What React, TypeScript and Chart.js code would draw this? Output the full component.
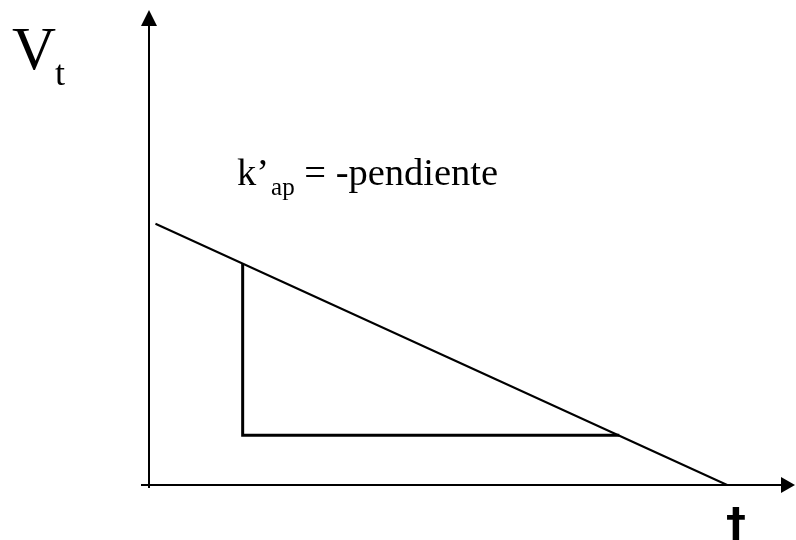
import React, { useEffect, useRef } from "react";
import { Chart, registerables } from "chart.js";

Chart.register(...registerables);

// Data (arbitrary units: time t on x, V_t on y)
const lineT = [0.1, 8.95];
const lineV = [5.5, 0];
const triangleT = [1.45, 1.45, 7.28];
const triangleV = [4.66, 1.05, 1.05];
const axisMaxT = 10;
const axisMaxV = 10;

const yLabel = "V";
const yLabelSub = "t";
const xLabel = "†";
const noteMain = "k’";
const noteSub = "ap";
const noteRest = " = -pendiente";

const overlayPlugin = {
  id: "overlay",
  afterDatasetsDraw(chart: any) {
    const { ctx, scales } = chart;
    const xs = scales.x;
    const ys = scales.y;
    const x0 = xs.getPixelForValue(0);
    const y0 = ys.getPixelForValue(0);
    const xEnd = xs.getPixelForValue(axisMaxT);
    const yTop = ys.getPixelForValue(axisMaxV);
    ctx.save();
    ctx.strokeStyle = "#000";
    ctx.fillStyle = "#000";
    ctx.lineWidth = 2;
    // y axis
    ctx.beginPath();
    ctx.moveTo(x0, y0 + 3);
    ctx.lineTo(x0, yTop + 12);
    ctx.stroke();
    ctx.beginPath();
    ctx.moveTo(x0, yTop);
    ctx.lineTo(x0 - 8, yTop + 16);
    ctx.lineTo(x0 + 8, yTop + 16);
    ctx.closePath();
    ctx.fill();
    // x axis
    ctx.beginPath();
    ctx.moveTo(x0 - 8, y0);
    ctx.lineTo(xEnd - 12, y0);
    ctx.stroke();
    ctx.beginPath();
    ctx.moveTo(xEnd, y0);
    ctx.lineTo(xEnd - 14, y0 - 8);
    ctx.lineTo(xEnd - 14, y0 + 8);
    ctx.closePath();
    ctx.fill();

    // labels
    ctx.textBaseline = "alphabetic";
    ctx.textAlign = "left";
    ctx.font = '61px "Liberation Serif"';
    ctx.fillText(yLabel, 12, 69);
    ctx.font = '36px "Liberation Serif"';
    ctx.fillText(yLabelSub, 55, 85);

    const kx = 237;
    ctx.font = '38.5px "Liberation Serif"';
    ctx.fillText(noteMain, kx, 185);
    const w1 = ctx.measureText(noteMain).width;
    ctx.font = '25px "Liberation Serif"';
    ctx.fillText(noteSub, kx + w1 + 2, 195);
    const w2 = ctx.measureText(noteSub).width;
    ctx.font = '38.5px "Liberation Serif"';
    ctx.fillText(noteRest, kx + w1 + 2 + w2, 185);

    ctx.font = 'bold 40px "DejaVu Sans"';
    ctx.textAlign = "center";
    ctx.fillText(xLabel, 736, 537);
    ctx.restore();
  },
};

export default function App() {
  const ref = useRef<HTMLCanvasElement | null>(null);
  useEffect(() => {
    if (!ref.current) return;
    const chart = new Chart(ref.current, {
      type: "scatter",
      data: {
        datasets: [
          {
            data: lineT.map((t, i) => ({ x: t, y: lineV[i] })),
            showLine: true,
            borderColor: "#000",
            borderWidth: 2,
            pointRadius: 0,
            clip: false as any,
          },
          {
            data: triangleT.map((t, i) => ({ x: t, y: triangleV[i] })),
            showLine: true,
            borderColor: "#000",
            borderWidth: 3,
            pointRadius: 0,
            borderJoinStyle: "miter",
            clip: false as any,
          },
        ],
      },
      options: {
        animation: false,
        responsive: false,
        maintainAspectRatio: false,
        layout: { padding: { left: 149, right: 1, top: 10, bottom: 55 } },
        plugins: { legend: { display: false }, tooltip: { enabled: false } },
        scales: {
          x: { type: "linear", display: false, min: 0, max: axisMaxT },
          y: { type: "linear", display: false, min: 0, max: axisMaxV },
        },
      },
      plugins: [overlayPlugin],
    });
    return () => chart.destroy();
  }, []);
  return (
    <div style={{ position: "fixed", left: 0, top: 0, width: 796, height: 540, background: "#fff" }}>
      <canvas ref={ref} width={796} height={540} style={{ display: "block" }} />
    </div>
  );
}
